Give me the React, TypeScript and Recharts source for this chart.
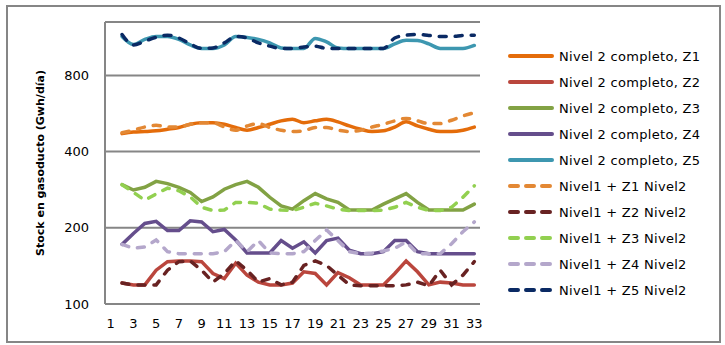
import React from 'react'
import { CartesianGrid, Line, LineChart, XAxis, YAxis } from 'recharts'

// días 1..33 (el día 1 no tiene datos)
const days = Array.from({ length: 33 }, (_, i) => String(i + 1))

const n2z1 = [null, 471, 478, 480, 483, 490, 498, 513, 520, 520, 513, 498, 486, 498, 513, 529, 537, 520, 529, 537, 524, 505, 490, 480, 483, 500, 525, 505, 490, 480, 480, 486, 500]
const n2z2 = [null, 121, 119, 119, 136, 147, 148, 148, 147, 132, 126, 145, 130, 122, 119, 119, 121, 134, 132, 119, 133, 127, 119, 119, 119, 132, 148, 134, 119, 122, 121, 119, 119]
const n2z3 = [null, 296, 282, 289, 305, 299, 289, 276, 254, 265, 284, 296, 305, 289, 264, 244, 237, 256, 273, 260, 252, 235, 235, 235, 248, 260, 273, 252, 235, 235, 235, 235, 248]
const n2z4 = [null, 172, 190, 208, 212, 195, 195, 213, 211, 193, 197, 179, 159, 159, 159, 178, 166, 176, 159, 178, 182, 163, 158, 158, 161, 178, 178, 161, 158, 158, 158, 158, 158]
const n2z5 = [null, 1140, 1060, 1110, 1140, 1140, 1110, 1055, 1022, 1022, 1055, 1140, 1130, 1110, 1075, 1027, 1022, 1022, 1120, 1085, 1027, 1022, 1022, 1022, 1022, 1065, 1100, 1098, 1065, 1022, 1022, 1022, 1050]

const n1z1 = [null, 475, 486, 500, 508, 500, 500, 513, 520, 520, 500, 486, 505, 516, 498, 486, 480, 483, 498, 498, 486, 480, 486, 500, 513, 529, 541, 529, 516, 516, 532, 553, 570]
const n1z2 = [null, 121, 119, 119, 119, 136, 147, 148, 136, 122, 132, 148, 136, 122, 126, 119, 122, 142, 148, 142, 130, 119, 118, 118, 118, 118, 119, 122, 118, 136, 119, 130, 147]
const n1z3 = [null, 296, 276, 257, 272, 287, 280, 265, 241, 234, 235, 252, 252, 250, 237, 235, 234, 241, 250, 244, 237, 234, 234, 234, 235, 241, 252, 241, 234, 234, 241, 264, 293]
const n1z4 = [null, 172, 166, 168, 179, 161, 158, 158, 158, 158, 161, 178, 161, 178, 159, 158, 158, 161, 178, 196, 178, 161, 158, 159, 162, 166, 176, 158, 158, 158, 173, 193, 211]
const n1z5 = [null, 1160, 1054, 1092, 1132, 1153, 1124, 1065, 1022, 1027, 1075, 1140, 1124, 1075, 1044, 1022, 1022, 1035, 1044, 1022, 1022, 1022, 1022, 1022, 1022, 1124, 1153, 1161, 1150, 1140, 1140, 1150, 1153]

const yTicks = [100, 200, 400, 800]

const series = [
  { key: 'n2z1', name: 'Nivel 2 completo, Z1', values: n2z1, color: '#E46C0A', dashed: false, curve: 'monotone' },
  { key: 'n2z2', name: 'Nivel 2 completo, Z2', values: n2z2, color: '#BA463D', dashed: false, curve: 'linear' },
  { key: 'n2z3', name: 'Nivel 2 completo, Z3', values: n2z3, color: '#82A244', dashed: false, curve: 'linear' },
  { key: 'n2z4', name: 'Nivel 2 completo, Z4', values: n2z4, color: '#654E8C', dashed: false, curve: 'linear' },
  { key: 'n2z5', name: 'Nivel 2 completo, Z5', values: n2z5, color: '#3D97B0', dashed: false, curve: 'monotone' },
  { key: 'n1z1', name: 'Nivel1 + Z1 Nivel2', values: n1z1, color: '#E38834', dashed: true, curve: 'monotone' },
  { key: 'n1z2', name: 'Nivel1 + Z2 Nivel2', values: n1z2, color: '#682222', dashed: true, curve: 'linear' },
  { key: 'n1z3', name: 'Nivel1 + Z3 Nivel2', values: n1z3, color: '#92D050', dashed: true, curve: 'linear' },
  { key: 'n1z4', name: 'Nivel1 + Z4 Nivel2', values: n1z4, color: '#B4A7CB', dashed: true, curve: 'linear' },
  { key: 'n1z5', name: 'Nivel1 + Z5 Nivel2', values: n1z5, color: '#0A2A64', dashed: true, curve: 'monotone' },
]

const data = days.map((d, i) => {
  const row: Record<string, any> = { day: d }
  series.forEach((s) => {
    row[s.key] = s.values[i]
  })
  return row
})

const font = '"DejaVu Sans", Verdana, sans-serif'
const grey = '#868686'

function Legend() {
  return (
    <div style={{ position: 'absolute', left: 506, top: 43, fontFamily: font, fontSize: 13, letterSpacing: 0.3 }}>
      {series.map((s) => (
        <div key={s.key} style={{ display: 'flex', alignItems: 'center', height: 26 }}>
          <svg width={50} height={8} style={{ marginRight: 3 }}>
            <line
              x1={4}
              x2={46}
              y1={4}
              y2={4}
              stroke={s.color}
              strokeWidth={4}
              strokeLinecap="round"
              strokeDasharray={s.dashed ? '8 8' : undefined}
            />
          </svg>
          <span>{s.name}</span>
        </div>
      ))}
    </div>
  )
}

export default function App() {
  return (
    <div style={{ position: 'fixed', left: 0, top: 0, width: 725, height: 345, background: '#fff' }}>
      <div
        style={{
          position: 'absolute',
          left: 6,
          top: 5,
          width: 711,
          height: 334,
          border: `2px solid ${grey}`,
        }}
      />
      <LineChart width={725} height={345} data={data} margin={{ top: 22, right: 245, bottom: 11, left: 0 }}>
        <CartesianGrid horizontal vertical={false} stroke={grey} strokeWidth={2} />
        <XAxis
          dataKey="day"
          interval={1}
          height={30}
          padding={{ left: 5.7, right: 5.7 }}
          axisLine={{ stroke: grey, strokeWidth: 2 }}
          tickLine={false}
          tickMargin={9}
          tick={{ fill: '#000', fontSize: 13, fontFamily: font }}
        />
        <YAxis
          type="number"
          scale="log"
          domain={[100, 1300]}
          ticks={yTicks}
          allowDataOverflow
          width={105}
          axisLine={{ stroke: grey, strokeWidth: 2 }}
          tickLine={false}
          tickSize={0}
          tickMargin={16}
          tick={{ fill: '#000', fontSize: 13, fontFamily: font }}
        />
        {series.map((s) => (
          <Line
            key={s.key}
            dataKey={s.key}
            name={s.name}
            type={s.curve as any}
            stroke={s.color}
            strokeWidth={3.5}
            strokeDasharray={s.dashed ? '7 9' : undefined}
            strokeLinecap="round"
            dot={false}
            activeDot={false}
            connectNulls={false}
            isAnimationActive={false}
          />
        ))}
      </LineChart>
      <div
        style={{
          position: 'absolute',
          left: 40,
          top: 163,
          transform: 'translate(-50%, -50%) rotate(-90deg)',
          whiteSpace: 'nowrap',
          fontFamily: font,
          fontSize: 11,
          fontWeight: 'bold',
        }}
      >
        Stock en gasoducto (Gwh/día)
      </div>
      <Legend />
    </div>
  )
}
